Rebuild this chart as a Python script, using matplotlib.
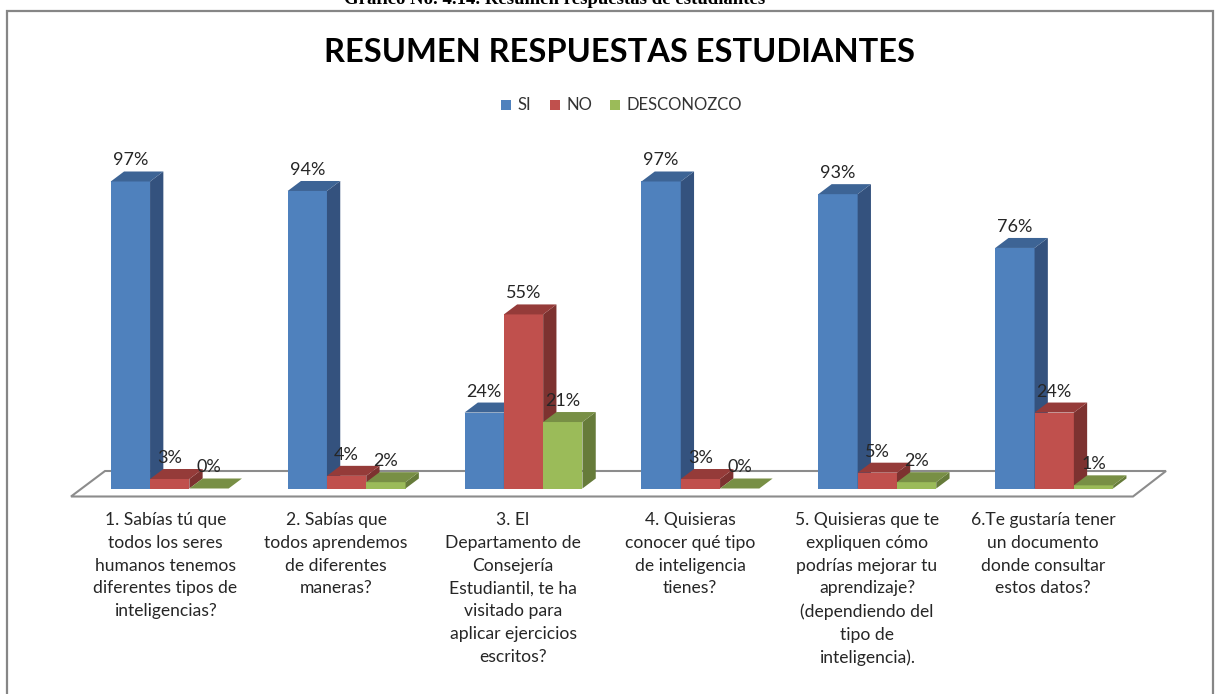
import matplotlib
matplotlib.use("Agg")
import matplotlib.pyplot as plt
from matplotlib.patches import Polygon, Rectangle

W, H = 1222, 694
categories = [
    "1. Sabías tú que\ntodos los seres\nhumanos tenemos\ndiferentes tipos de\ninteligencias?",
    "2. Sabías que\ntodos aprendemos\nde diferentes\nmaneras?",
    "3. El\nDepartamento de\nConsejería\nEstudiantil, te ha\nvisitado para\naplicar ejercicios\nescritos?",
    "4. Quisieras\nconocer qué tipo\nde inteligencia\ntienes?",
    "5. Quisieras que te\nexpliquen cómo\npodrías mejorar tu\naprendizaje?\n(dependiendo del\ntipo de\ninteligencia).",
    "6.Te gustaría tener\nun documento\ndonde consultar\nestos datos?",
]
series_names = ["SI", "NO", "DESCONOZCO"]
si = [97, 94, 24, 97, 93, 76]
no = [3, 4, 55, 3, 5, 24]
desconozco = [0, 2, 21, 0, 2, 1]
series = [si, no, desconozco]

front = ["#4F81BD", "#C0504D", "#9BBB59"]
top = ["#3D6495", "#953B39", "#788F45"]
side = ["#34527E", "#7D3230", "#667B3A"]

plt.rcParams["font.family"] = ["Lato", "DejaVu Sans"]
fig = plt.figure(figsize=(W / 100, H / 100), dpi=100)
ax = fig.add_axes([0, 0, 1, 1])
ax.axis("off")

# scale: 1 category = 176.9 px; 1 % = 3.165 px; category 0 centre at px 169.7; baseline at px 488.5
PX_X, PX_Y, X0, Y0 = 176.9, 3.165, 169.7, 488.5
ax.set_xlim((0 - X0) / PX_X, (W - X0) / PX_X)
ax.set_ylim((Y0 - H) / PX_Y, Y0 / PX_Y)
px = lambda x: (x - X0) / PX_X
py = lambda y: (Y0 - y) / PX_Y

bw = 39.3 / PX_X
dx = 13.3 / PX_X
dy = 10 / PX_Y

# outer frame
ax.add_patch(Rectangle((px(7.5), py(720)), (1212.5 - 7.5) / PX_X, (720 - 10.5) / PX_Y,
                       fc="white", ec="#868686", lw=1.6, clip_on=True))
# floor
ax.add_patch(Polygon([(px(71), py(496.5)), (px(1133), py(496.5)), (px(1166), py(471)), (px(105), py(471))],
                     closed=True, fc="white", ec="#8C8C8C", lw=1.5))

for i in range(len(categories)):
    for s in range(3):
        v = series[s][i]
        x = i + (s - 1) * bw
        l, r = x - bw / 2, x + bw / 2
        ax.bar(x, v, width=bw, color=front[s], lw=0)
        ax.add_patch(Polygon([(r, 0), (r + dx, dy), (r + dx, v + dy), (r, v)], closed=True, fc=side[s], lw=0))
        ax.add_patch(Polygon([(l, v), (r, v), (r + dx, v + dy), (l + dx, v + dy)], closed=True, fc=top[s], lw=0))

for i in range(len(categories)):
    for s in range(3):
        v = series[s][i]
        ax.text(i + (s - 1) * bw, v + 21 / PX_Y, f"{v}%", ha="center", va="center",
                fontsize=13, color="#262626", zorder=6)

label_cx = [165.5, 336, 513, 690, 867, 1043]
for c, text in zip(label_cx, categories):
    ax.text(px(c), py(512), text, ha="center", va="top", fontsize=12.6,
            color="#262626", linespacing=1.52, zorder=6)

ax.text(px(620), py(52), "RESUMEN RESPUESTAS ESTUDIANTES", ha="center", va="center",
        fontsize=23.5, fontweight="bold", color="black", zorder=6)
ax.text(px(555), py(-1), "Gráfico No. 4.14. Resumen respuestas de estudiantes", ha="center", va="center",
        fontsize=13.5, fontweight="bold", family="Liberation Serif", color="black", zorder=6)

for name, c, sq, tx in zip(series_names, front, [501, 550, 610], [517, 566, 627]):
    ax.add_patch(Rectangle((px(sq), py(110)), 10 / PX_X, 10 / PX_Y, fc=c, lw=0))
    ax.text(px(tx), py(105), name, ha="left", va="center", fontsize=12, color="#333333", zorder=6)

fig.savefig("out.png", dpi=100)
